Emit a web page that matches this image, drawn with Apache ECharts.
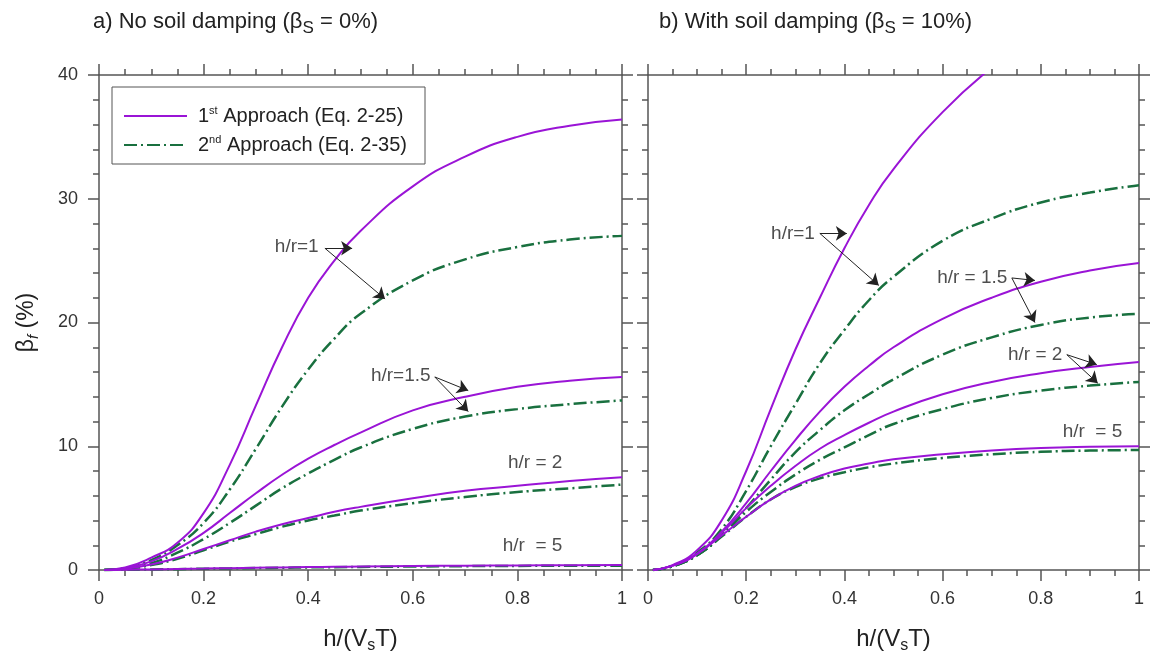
<!DOCTYPE html>
<html>
<head>
<meta charset="utf-8">
<script src="https://cdn.jsdelivr.net/npm/echarts@6/dist/echarts.min.js"></script>
<style>
  html, body { margin: 0; padding: 0; background: #fff; }
  #chart { width: 1153px; height: 659px; }
</style>
</head>
<body>
<div id="chart"></div>
<script>
// Normalised height h/(Vs T) shared by every curve
const xs = [0.01, 0.05, 0.1, 0.15, 0.2, 0.25, 0.3, 0.35, 0.4, 0.45, 0.5, 0.6, 0.7, 0.8, 0.9, 1.0];

// a) No soil damping (beta_s = 0%) — foundation damping beta_f (%)
const a1_hr1  = [0, 0.2, 1.0, 2.2, 4.6, 8.5, 13.3, 18.0, 22.0, 25.0, 27.4, 31.0, 33.4, 35.0, 35.9, 36.4];
const a2_hr1  = [0, 0.15, 0.8, 2.0, 3.8, 6.5, 9.8, 13.2, 16.2, 18.7, 20.7, 23.4, 25.1, 26.1, 26.7, 27.0];
const a1_hr15 = [0, 0.15, 0.7, 1.7, 3.0, 4.6, 6.2, 7.7, 9.0, 10.1, 11.1, 12.9, 14.0, 14.8, 15.3, 15.6];
const a2_hr15 = [0, 0.1, 0.55, 1.4, 2.5, 3.8, 5.2, 6.6, 7.8, 8.9, 9.9, 11.4, 12.4, 13.0, 13.4, 13.7];
const a1_hr2  = [0, 0.1, 0.45, 1.0, 1.7, 2.4, 3.1, 3.7, 4.2, 4.7, 5.1, 5.8, 6.4, 6.8, 7.2, 7.5];
const a2_hr2  = [0, 0.1, 0.4, 0.9, 1.6, 2.3, 2.9, 3.5, 4.0, 4.4, 4.8, 5.4, 5.9, 6.3, 6.6, 6.9];
const a1_hr5  = [0, 0.02, 0.05, 0.09, 0.12, 0.15, 0.18, 0.21, 0.24, 0.26, 0.28, 0.32, 0.35, 0.37, 0.39, 0.40];
const a2_hr5  = [0, 0.02, 0.04, 0.07, 0.10, 0.13, 0.16, 0.18, 0.21, 0.23, 0.25, 0.28, 0.31, 0.33, 0.34, 0.35];

// b) With soil damping (beta_s = 10%)
const b1_hr1  = [0, 0.4, 1.6, 4.0, 8.0, 13.0, 17.8, 22.0, 26.0, 29.5, 32.4, 37.0, 40.6];
const b2_hr1  = [0, 0.35, 1.4, 3.3, 6.4, 10.0, 13.4, 16.7, 19.4, 21.8, 23.7, 26.6, 28.4, 29.7, 30.5, 31.1];
const b1_hr15 = [0, 0.35, 1.3, 3.1, 5.4, 8.0, 10.5, 12.8, 14.8, 16.5, 18.0, 20.3, 22.0, 23.3, 24.2, 24.8];
const b2_hr15 = [0, 0.3, 1.2, 2.8, 5.0, 7.3, 9.5, 11.3, 12.9, 14.2, 15.4, 17.4, 18.8, 19.8, 20.4, 20.7];
const b1_hr2  = [0, 0.35, 1.3, 3.0, 5.0, 6.8, 8.4, 9.8, 10.9, 11.9, 12.8, 14.2, 15.2, 15.9, 16.4, 16.8];
const b2_hr2  = [0, 0.3, 1.2, 2.8, 4.7, 6.3, 7.7, 8.9, 9.9, 10.9, 11.8, 13.0, 13.9, 14.5, 14.9, 15.2];
const b1_hr5  = [0, 0.35, 1.3, 2.8, 4.3, 5.7, 6.8, 7.6, 8.2, 8.6, 8.95, 9.35, 9.65, 9.85, 9.95, 10.0];
const b2_hr5  = [0, 0.3, 1.2, 2.7, 4.3, 5.7, 6.7, 7.4, 7.9, 8.3, 8.6, 9.05, 9.35, 9.55, 9.65, 9.7];

// Curve labels: [x, y, text] (text right edge sits at x)
const labelsA = [[0.421, 26.1, 'h/r=1'], [0.635, 15.7, 'h/r=1.5'], [0.887, 8.65, 'h/r = 2'], [0.887, 1.94, 'h/r  = 5']];
const labelsB = [[0.341, 27.2, 'h/r=1'], [0.733, 23.6, 'h/r = 1.5'], [0.845, 17.4, 'h/r = 2'], [0.967, 11.15, 'h/r  = 5']];

// Leader arrows: [x0, y0, x1, y1]
const arrowsA = [[0.432, 26.0, 0.484, 26.0], [0.432, 26.0, 0.547, 21.9],
                 [0.642, 15.6, 0.706, 14.5], [0.642, 15.6, 0.706, 12.8]];
const arrowsB = [[0.350, 27.2, 0.405, 27.2], [0.350, 27.2, 0.470, 23.0],
                 [0.741, 23.6, 0.788, 23.4], [0.741, 23.6, 0.788, 20.0],
                 [0.853, 17.4, 0.914, 16.6], [0.853, 17.4, 0.916, 15.1]];

const NAME1 = '1st Approach (Eq. 2-25)';
const NAME2 = '2nd Approach (Eq. 2-35)';
const PURPLE = '#9a14d6';
const GREEN = '#19703f';
const AXIS = '#555';
const FONT = 'Liberation Sans, Arial, sans-serif';

const chart = echarts.init(document.getElementById('chart'), null, { renderer: 'canvas' });

function pairs(vals) { return vals.map((v, i) => [xs[i], v]); }

function curve(name, vals, gi) {
  const first = name === NAME1;
  return {
    name: name, type: 'line', xAxisIndex: gi * 2, yAxisIndex: gi * 2,
    data: pairs(vals), showSymbol: false, symbol: 'none', smooth: 0.5,
    clip: true, z: first ? 3 : 2,
    lineStyle: first ? { color: PURPLE, width: 2 } : { color: GREEN, width: 2.5, type: [13, 4, 2, 4] },
    itemStyle: { color: first ? PURPLE : GREEN },
    emphasis: { disabled: true }
  };
}

function notes(labels, arrows, gi) {
  return {
    name: 'notes' + gi, type: 'scatter', xAxisIndex: gi * 2, yAxisIndex: gi * 2,
    symbolSize: 1, itemStyle: { color: 'rgba(0,0,0,0)' }, z: 5, silent: true,
    data: labels.map(l => ({ value: [l[0], l[1]], name: l[2] })),
    label: { show: true, position: 'left', distance: 0, formatter: '{b}', fontSize: 19, color: '#222', fontFamily: FONT },
    markLine: {
      silent: true, symbol: ['none', 'arrow'], symbolSize: 11, animation: false,
      label: { show: false },
      lineStyle: { color: '#222', width: 1, type: 'solid' },
      emphasis: { disabled: true },
      data: arrows.map(a => [{ coord: [a[0], a[1]] }, { coord: [a[2], a[3]] }])
    }
  };
}

const tickStyle = { color: AXIS, width: 1.5 };
const nameRich = { sub: { fontSize: 16, lineHeight: 16, verticalAlign: 'bottom', fontFamily: FONT, color: '#222' } };

function xAxis(gi, top) {
  return {
    type: 'value', gridIndex: gi, min: 0, max: 1, interval: 0.2, position: top ? 'top' : 'bottom',
    axisLine: { show: true, onZero: false, lineStyle: tickStyle },
    axisTick: { show: true, inside: false, length: 11, lineStyle: tickStyle },
    minorTick: { show: true, splitNumber: 4, length: 6, lineStyle: tickStyle },
    splitLine: { show: false }, minorSplitLine: { show: false },
    axisLabel: { show: !top, margin: 20, fontSize: 18, color: '#333', fontFamily: FONT },
    name: top ? '' : 'h/(V{sub|s}T)', nameLocation: 'middle', nameGap: 54,
    nameTextStyle: { fontSize: 24, color: '#222', fontFamily: FONT, lineHeight: 30, rich: nameRich }
  };
}

function yAxis(gi, right, labels) {
  return {
    type: 'value', gridIndex: gi, min: 0, max: 40, interval: 10, position: right ? 'right' : 'left',
    axisLine: { show: true, onZero: false, lineStyle: tickStyle },
    axisTick: { show: true, inside: false, length: 11, lineStyle: tickStyle },
    minorTick: { show: true, splitNumber: 5, length: 6, lineStyle: tickStyle },
    splitLine: { show: false }, minorSplitLine: { show: false },
    axisLabel: { show: labels, margin: 21, fontSize: 18, color: '#333', fontFamily: FONT },
    name: labels ? 'β{subi|f} (%)' : '', nameLocation: 'middle', nameGap: 58, nameRotate: 90,
    nameTextStyle: {
      fontSize: 23, color: '#222', fontFamily: FONT, lineHeight: 28,
      rich: { subi: { fontSize: 15, lineHeight: 15, verticalAlign: 'bottom', fontStyle: 'italic', fontFamily: FONT, color: '#222' } }
    }
  };
}

const titleRich = { sub: { fontSize: 17, lineHeight: 17, verticalAlign: 'bottom', fontFamily: FONT, color: '#222' } };

const option = {
  animation: false,
  backgroundColor: '#fff',
  textStyle: { fontFamily: FONT },
  title: [
    { text: 'a) No soil damping (β{sub|S} = 0%)', left: 88, top: 2,
      textStyle: { fontSize: 22, fontWeight: 'normal', color: '#222', fontFamily: FONT, lineHeight: 30, rich: titleRich } },
    { text: 'b) With soil damping (β{sub|S} = 10%)', left: 654, top: 2,
      textStyle: { fontSize: 22, fontWeight: 'normal', color: '#222', fontFamily: FONT, lineHeight: 30, rich: titleRich } }
  ],
  legend: {
    data: [NAME1, NAME2], orient: 'vertical', left: 112, top: 87,
    backgroundColor: '#fff', borderColor: '#555', borderWidth: 1,
    padding: [18, 18, 8, 11], itemGap: 7, itemWidth: 63, itemHeight: 14,
    itemStyle: { opacity: 0 },
    formatter: function (name) {
      return name === NAME1 ? '1{sup|st} Approach (Eq. 2-25)' : '2{sup|nd} Approach (Eq. 2-35)';
    },
    textStyle: {
      fontSize: 20, color: '#222', fontFamily: FONT, lineHeight: 22, padding: [0, 0, 0, 6],
      rich: { sup: { fontSize: 11, lineHeight: 11, verticalAlign: 'top', fontFamily: FONT, color: '#222' } }
    },
    selectedMode: false
  },
  grid: [
    { left: 99, top: 75, width: 523, height: 495 },
    { left: 648, top: 75, width: 491, height: 495 }
  ],
  xAxis: [xAxis(0, false), xAxis(0, true), xAxis(1, false), xAxis(1, true)],
  yAxis: [yAxis(0, false, true), yAxis(0, true, false), yAxis(1, false, false), yAxis(1, true, false)],
  series: [
    curve(NAME2, a2_hr1, 0), curve(NAME2, a2_hr15, 0), curve(NAME2, a2_hr2, 0), curve(NAME2, a2_hr5, 0),
    curve(NAME1, a1_hr1, 0), curve(NAME1, a1_hr15, 0), curve(NAME1, a1_hr2, 0), curve(NAME1, a1_hr5, 0),
    curve(NAME2, b2_hr1, 1), curve(NAME2, b2_hr15, 1), curve(NAME2, b2_hr2, 1), curve(NAME2, b2_hr5, 1),
    curve(NAME1, b1_hr1, 1), curve(NAME1, b1_hr15, 1), curve(NAME1, b1_hr2, 1), curve(NAME1, b1_hr5, 1),
    notes(labelsA, arrowsA, 0), notes(labelsB, arrowsB, 1)
  ]
};

// Legend order: solid line first
option.series.sort((p, q) => (p.name === NAME1 ? 0 : 1) - (q.name === NAME1 ? 0 : 1));

chart.setOption(option);
</script>
</body>
</html>
